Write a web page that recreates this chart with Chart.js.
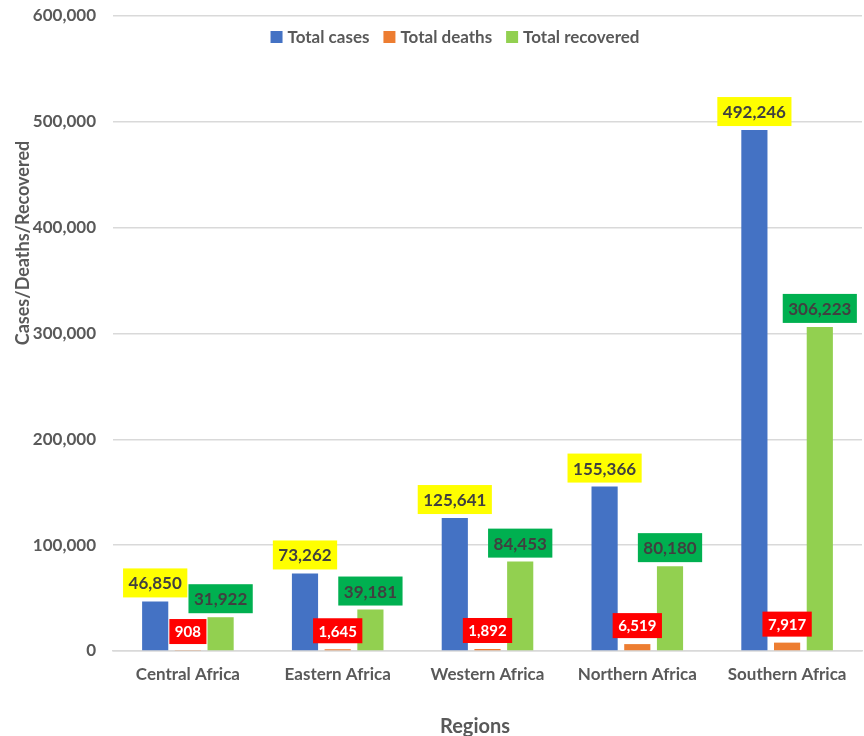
<!DOCTYPE html>
<html>
<head>
<meta charset="utf-8">
<script src="https://cdn.jsdelivr.net/npm/chart.js@4.4.1/dist/chart.umd.min.js"></script>
<style>
  html, body { margin: 0; padding: 0; background: #ffffff; }
  #wrap { width: 864px; height: 736px; }
</style>
</head>
<body>
<div id="wrap"><canvas id="chart" width="864" height="736"></canvas></div>
<script>
const regions = ["Central Africa", "Eastern Africa", "Western Africa", "Northern Africa", "Southern Africa"];
const totalCases = [46850, 73262, 125641, 155366, 492246];
const totalDeaths = [908, 1645, 1892, 6519, 7917];
const totalRecovered = [31922, 39181, 84453, 80180, 306223];
const yTicks = [0, 100000, 200000, 300000, 400000, 500000, 600000];

const FONT = "Lato";
const GRAY = "#595959";

// colours of the value boxes, one per series
const labelStyles = [
  { bg: "#ffff00", color: "#404040", size: 17 },
  { bg: "#ff0000", color: "#ffffff", size: 15 },
  { bg: "#00b050", color: "#404040", size: 17 },
];

function fmt(v) {
  return v.toLocaleString("en-US");
}

// value boxes above each bar
const boxLabels = {
  id: "boxLabels",
  afterDatasetsDraw(chart) {
    const ctx = chart.ctx;
    chart.data.datasets.forEach((ds, i) => {
      const st = labelStyles[i];
      const meta = chart.getDatasetMeta(i);
      ctx.save();
      ctx.font = "bold " + st.size + "px " + FONT;
      ctx.textAlign = "center";
      ctx.textBaseline = "middle";
      meta.data.forEach((bar, j) => {
        const txt = fmt(ds.data[j]);
        const w = ctx.measureText(txt).width + 11;
        const h = i === 1 ? 25 : 29;
        const gap = i === 1 ? 6 : 4;
        const top = bar.y - gap - h;
        ctx.fillStyle = st.bg;
        ctx.fillRect(bar.x - w / 2, top, w, h);
        ctx.fillStyle = st.color;
        ctx.fillText(txt, bar.x, top + h / 2 + 1);
      });
      ctx.restore();
    });
  },
};

// legend inside the plot area + axis titles
const extras = {
  id: "extras",
  afterDraw(chart) {
    const ctx = chart.ctx;
    ctx.save();
    ctx.font = "bold 17px " + FONT;
    ctx.textBaseline = "middle";
    const items = chart.data.datasets.map((ds) => ({
      label: ds.label,
      color: ds.backgroundColor,
      w: ctx.measureText(ds.label).width,
    }));
    const sq = 12, gapText = 5, gapItem = 14;
    let total = 0;
    items.forEach((it, k) => {
      total += sq + gapText + it.w + (k < items.length - 1 ? gapItem : 0);
    });
    let x = 455 - total / 2;
    const y = 37;
    items.forEach((it) => {
      ctx.fillStyle = it.color;
      ctx.fillRect(x, y - sq / 2, sq, sq);
      x += sq + gapText;
      ctx.fillStyle = GRAY;
      ctx.textAlign = "left";
      ctx.fillText(it.label, x, y + 1);
      x += it.w + gapItem;
    });

    // axis titles
    ctx.textAlign = "center";
    ctx.fillStyle = GRAY;
    ctx.font = "bold 20px " + FONT;
    ctx.fillText("Regions", 475, 727);
    ctx.font = "bold 18px " + FONT;
    ctx.translate(23, 243);
    ctx.rotate(-Math.PI / 2);
    ctx.fillText("Cases/Deaths/Recovered", 0, 0);
    ctx.restore();
  },
};

const ctx = document.getElementById("chart").getContext("2d");

new Chart(ctx, {
  type: "bar",
  data: {
    labels: regions,
    datasets: [
      {
        label: "Total cases",
        data: totalCases,
        backgroundColor: "#4472c4",
        categoryPercentage: 0.655,
        barPercentage: 0.8,
      },
      {
        label: "Total deaths",
        data: totalDeaths,
        backgroundColor: "#ed7d31",
        categoryPercentage: 0.655,
        barPercentage: 0.8,
      },
      {
        label: "Total recovered",
        data: totalRecovered,
        backgroundColor: "#92d050",
        categoryPercentage: 0.655,
        barPercentage: 0.8,
      },
    ],
  },
  options: {
    responsive: false,
    animation: false,
    layout: {
      padding: { top: 16, right: 2, left: 0, bottom: 0 },
    },
    plugins: {
      legend: { display: false },
      tooltip: { enabled: false },
    },
    scales: {
      x: {
        afterFit(scale) {
          scale.height = 85;
          scale.paddingLeft = 0;
          scale.paddingRight = 0;
        },
        grid: { display: false, drawTicks: false },
        border: { color: "#d9d9d9", width: 1.5 },
        ticks: {
          padding: 13,
          color: GRAY,
          font: { family: FONT, size: 17, weight: "bold" },
        },
      },
      y: {
        min: 0,
        max: 600000,
        afterFit(scale) {
          scale.width = 113;
          scale.paddingTop = 0;
          scale.paddingBottom = 0;
        },
        afterBuildTicks(scale) {
          scale.ticks = yTicks.map((v) => ({ value: v }));
        },
        grid: { color: "#d9d9d9", lineWidth: 1.5, drawTicks: false },
        border: { display: false },
        ticks: {
          padding: 17,
          color: GRAY,
          font: { family: FONT, size: 17, weight: "bold" },
          callback: (v) => fmt(v),
        },
      },
    },
  },
  plugins: [boxLabels, extras],
});
</script>
</body>
</html>
